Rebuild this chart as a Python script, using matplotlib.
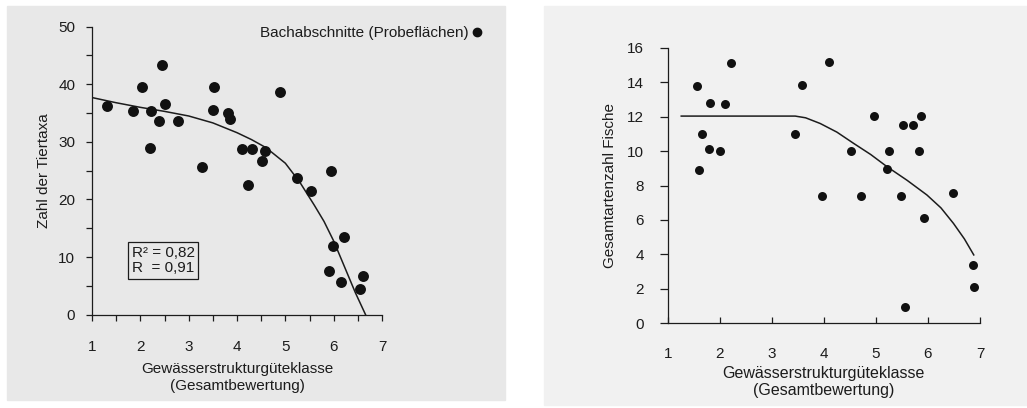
import matplotlib
matplotlib.use("Agg")
import matplotlib.pyplot as plt
from matplotlib.patches import Rectangle
from matplotlib.lines import Line2D

plt.rcParams['font.family'] = ['Liberation Sans', 'DejaVu Sans']

# ---------------- data: left panel (Zahl der Tiertaxa) ----------------
taxa_x = [1.31, 1.84, 2.04, 2.23, 2.21, 2.38, 2.44, 2.52, 2.78, 3.28,
          3.50, 3.53, 3.82, 3.86, 4.10, 4.23, 4.32, 4.52, 4.58, 4.88,
          5.25, 5.53, 5.95, 5.99, 6.21, 5.90, 6.16, 6.60, 6.55]
taxa_y = [36.2, 35.4, 39.5, 35.4, 28.9, 33.6, 43.3, 36.6, 33.7, 25.7,
          35.5, 39.5, 35.0, 34.0, 28.8, 22.5, 28.8, 26.7, 28.4, 38.7,
          23.8, 21.5, 24.9, 12.0, 13.5, 7.6, 5.7, 6.7, 4.5]
taxa_fit_x = [1.0, 1.5, 2.0, 2.5, 3.0, 3.5, 4.0, 4.3, 4.6, 5.0, 5.3, 5.6,
              5.8, 6.0, 6.25, 6.45, 6.66]
taxa_fit_y = [37.7, 36.8, 36.0, 35.3, 34.5, 33.3, 31.6, 30.4, 29.0, 26.3,
              23.0, 19.0, 16.2, 12.8, 7.8, 3.8, 0.0]

# ---------------- data: right panel (Gesamtartenzahl Fische) ----------------
fish_x = [1.56, 1.60, 1.65, 1.79, 1.82, 2.01, 2.10, 2.22, 3.45, 3.58,
          3.97, 4.09, 4.52, 4.71, 4.97, 5.22, 5.26, 5.49, 5.53, 5.55,
          5.72, 5.87, 5.83, 5.93, 6.48, 6.87, 6.88]
fish_y = [13.8, 8.9, 11.0, 10.1, 12.8, 10.0, 12.75, 15.1, 10.97, 13.83,
          7.41, 15.18, 10.0, 7.41, 12.05, 8.94, 10.02, 7.41, 11.49, 0.93,
          11.49, 12.05, 10.02, 6.09, 7.54, 3.37, 2.13]
fish_fit_x = [1.26, 2.0, 3.0, 3.45, 3.65, 3.93, 4.25, 4.57, 4.9, 5.21,
              5.6, 5.98, 6.25, 6.49, 6.7, 6.88]
fish_fit_y = [12.03, 12.03, 12.03, 12.03, 11.93, 11.6, 11.1, 10.45, 9.8, 9.1,
              8.3, 7.45, 6.7, 5.8, 4.9, 3.97]

x_ticks = [1, 2, 3, 4, 5, 6, 7]
left_yticks = [0, 10, 20, 30, 40, 50]
right_yticks = [0, 2, 4, 6, 8, 10, 12, 14, 16]

xlabel = "Gewässerstrukturgüteklasse\n(Gesamtbewertung)"
left_ylabel = "Zahl der Tiertaxa"
right_ylabel = "Gesamtartenzahl Fische"
legend_label = "Bachabschnitte (Probeflächen)"
stats_text = "R² = 0,82\nR  = 0,91"

W, H = 1027, 408
ink = '#1c1c1c'
fig = plt.figure(figsize=(W / 100, H / 100), dpi=100, facecolor='white')

# scanned-paper backgrounds
fig.patches.append(Rectangle((7 / W, 1 - 400 / H), (505 - 7) / W, (400 - 6) / H,
                             transform=fig.transFigure, color='#e8e8e8', zorder=-10))
fig.patches.append(Rectangle((544 / W, 1 - 405 / H), (W - 544) / W, (405 - 6) / H,
                             transform=fig.transFigure, color='#f1f1f1', zorder=-10))

def style(ax):
    ax.set_facecolor('none')
    for s in ['top', 'right']:
        ax.spines[s].set_visible(False)
    for s in ['left', 'bottom']:
        ax.spines[s].set_color(ink)
        ax.spines[s].set_linewidth(0.9)

# ---------------- left panel ----------------
axL = fig.add_axes([92 / W, 1 - 314.7 / H, (382 - 92) / W, (314.7 - 26.7) / H])
style(axL)
axL.scatter(taxa_x, taxa_y, s=62, color='#111111', zorder=3, linewidths=0)
axL.plot(taxa_fit_x, taxa_fit_y, color=ink, lw=1.1, zorder=2)
axL.set_xlim(1, 7)
axL.set_ylim(0, 50)
axL.set_xticks(x_ticks)
axL.set_xticks([1.5, 2.5, 3.5, 4.5, 5.5, 6.5], minor=True)
axL.set_yticks(left_yticks)
axL.set_yticks([5, 15, 25, 35, 45], minor=True)
axL.tick_params(axis='x', which='both', direction='out', length=4, width=0.9,
                color=ink, labelcolor=ink, labelsize=11, pad=14)
axL.tick_params(axis='y', which='both', direction='out', length=4, width=0.9,
                color=ink, labelcolor=ink, labelsize=11, pad=8)
axL.set_xlabel(xlabel, fontsize=11, color=ink, labelpad=6, linespacing=1.25)
axL.set_ylabel(left_ylabel, fontsize=11, color=ink, labelpad=5)
axL.text(1.82, 9.4, stats_text, fontsize=11, color=ink, va='center', ha='left',
         linespacing=1.15,
         bbox=dict(boxstyle='square,pad=0.25', fc='none', ec=ink, lw=0.9))
handle = Line2D([], [], marker='o', ls='', color='#111111', markersize=6)
fig.legend(handles=[handle], labels=[legend_label], loc='center right',
           bbox_to_anchor=(482 / W, 1 - 33 / H), bbox_transform=fig.transFigure,
           frameon=False, markerfirst=False, handlelength=0.6, handletextpad=0.3,
           borderpad=0, borderaxespad=0, prop={'size': 11}, labelcolor=ink)

# ---------------- right panel ----------------
axR = fig.add_axes([667.7 / W, 1 - 323.3 / H, (980 - 667.7) / W, (323.3 - 47.7) / H])
style(axR)
axR.scatter(fish_x, fish_y, s=42, color='#111111', zorder=3, linewidths=0)
axR.plot(fish_fit_x, fish_fit_y, color=ink, lw=1.1, zorder=2)
axR.set_xlim(1, 7)
axR.set_ylim(0, 16)
axR.set_xticks(x_ticks)
axR.set_yticks(right_yticks)
axR.tick_params(axis='x', direction='in', length=4, width=0.9, color=ink,
                labelcolor=ink, labelsize=11, pad=17)
axR.tick_params(axis='y', direction='out', length=6, width=0.9, color=ink,
                labelcolor=ink, labelsize=11, pad=11)
axR.set_xlabel(xlabel, fontsize=11.5, color=ink, labelpad=4, linespacing=1.15)
axR.set_ylabel(right_ylabel, fontsize=11, color=ink, labelpad=7)

fig.savefig('out.png', dpi=100, facecolor='white')
